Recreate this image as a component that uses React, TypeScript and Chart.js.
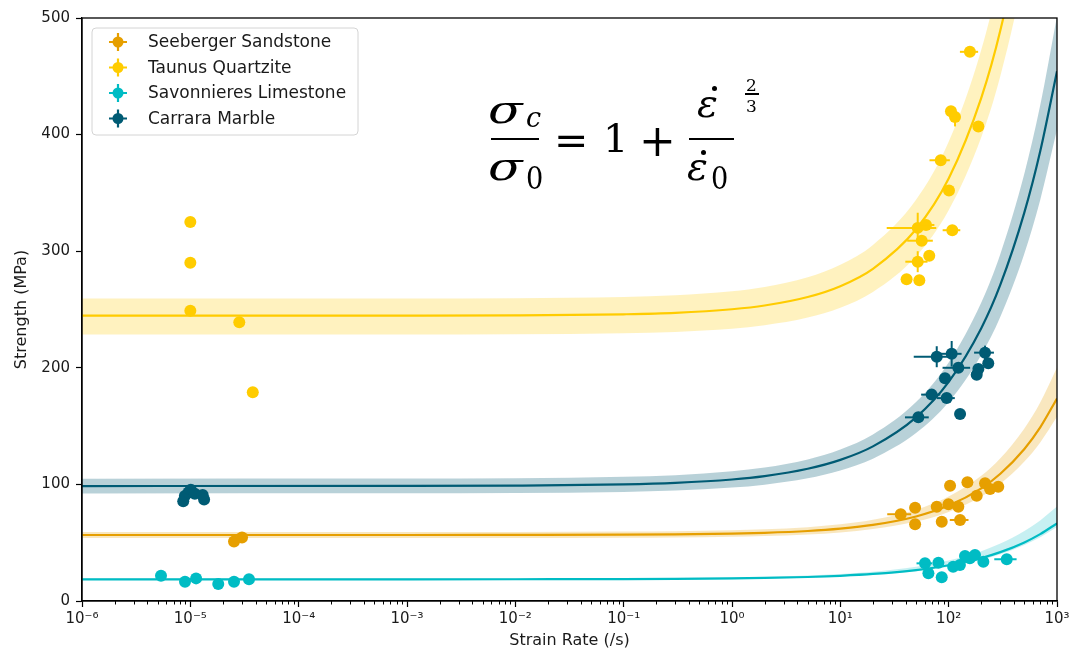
import React, { useEffect, useRef } from 'react';
import { Chart, registerables } from 'chart.js';

Chart.register(...registerables);

// ---------- data ----------
const materials = ['Seeberger Sandstone', 'Taunus Quartzite', 'Savonnieres Limestone', 'Carrara Marble'];

const xMajorTicks = [1e-6, 1e-5, 1e-4, 1e-3, 1e-2, 1e-1, 1, 10, 100, 1000];
const xTickLabels = ['10⁻⁶', '10⁻⁵', '10⁻⁴', '10⁻³', '10⁻²', '10⁻¹', '10⁰', '10¹', '10²', '10³'];
const yTicks = [0, 100, 200, 300, 400, 500];

// fitted curves (strength, MPa) at these strain rates (/s)
const fitRates = [1e-6, 1e-3, 1e-2, 1e-1, 0.3, 1, 2, 5, 10, 20, 50, 100, 200, 300, 500, 700, 1000];
const sandstoneFit = [56.6, 56.61, 56.65, 56.85, 57.12, 57.77, 58.46, 60.02, 62.04, 65.23, 72.49, 81.82, 96.64, 109.1, 130.4, 148.9, 173.7];
const sandstoneUpper = [59.2, 59.21, 59.27, 59.5, 59.83, 60.61, 61.44, 63.32, 65.75, 69.59, 78.34, 89.58, 107.4, 122.4, 148.0, 170.3, 200.2];
const sandstoneLower = [54.0, 54.01, 54.05, 54.22, 54.47, 55.04, 55.65, 57.04, 58.83, 61.67, 68.12, 76.41, 89.59, 100.6, 119.6, 136.0, 158.0];
const quartziteFit = [244.7, 244.75, 244.95, 245.9, 247.1, 250.2, 253.4, 260.7, 270.0, 284.9, 318.8, 362.3, 431.5, 489.4, 588.7, 675.0, 790.8];
const quartziteUpper = [259.4, 259.46, 259.7, 260.7, 262.2, 265.6, 269.3, 277.6, 288.4, 305.4, 344.1, 393.8, 472.8, 539.0, 652.4, 751.0, 883.3];
const quartziteLower = [228.6, 228.65, 228.8, 229.7, 230.8, 233.5, 236.5, 243.1, 251.6, 265.1, 295.7, 335.2, 397.8, 450.3, 540.3, 618.5, 723.4];
const limestoneFit = [18.6, 18.61, 18.65, 18.79, 18.97, 19.36, 19.75, 20.6, 21.63, 23.19, 26.55, 30.65, 36.87, 41.9, 50.27, 57.34, 66.6];
const limestoneUpper = [19.2, 19.22, 19.26, 19.45, 19.68, 20.18, 20.69, 21.77, 23.1, 25.11, 29.44, 34.73, 42.74, 49.22, 59.99, 69.11, 81.02];
const limestoneLower = [18.0, 18.01, 18.05, 18.18, 18.35, 18.72, 19.09, 19.89, 20.86, 22.34, 25.52, 29.39, 35.27, 40.03, 47.93, 54.62, 63.36];
const marbleFit = [98.6, 98.69, 98.96, 100.0, 101.3, 104.2, 107.1, 113.4, 121.0, 132.6, 157.5, 187.9, 234.0, 271.3, 333.3, 385.7, 454.3];
const marbleUpper = [104.9, 105.0, 105.3, 106.5, 107.9, 111.2, 114.4, 121.4, 129.9, 142.8, 170.6, 204.5, 255.9, 297.5, 366.6, 425.1, 501.5];
const marbleLower = [92.3, 92.38, 92.61, 93.54, 94.7, 97.24, 99.79, 105.3, 112.0, 122.1, 144.0, 170.6, 211.0, 243.7, 298.0, 344.0, 404.1];

// measurements: [strain rate, strength, strain-rate error, strength error]
type Pt = [number, number, number, number];
const sandstonePoints: Pt[] = [
  [2.53e-5, 51, 0, 0], [3.0e-5, 54.5, 0, 0],
  [36.1, 74.4, 9, 0], [49, 80, 0, 0], [49, 65.8, 0, 0], [77.6, 80.9, 0, 0], [99.6, 82.9, 0, 0],
  [122.8, 80.9, 0, 0], [86.3, 68, 0, 0], [127.4, 69.5, 25, 0], [103, 98.9, 0, 0], [149, 101.8, 0, 0],
  [181.5, 90.3, 0, 0], [216.7, 100.9, 0, 0], [241, 96.1, 0, 0], [287, 98, 0, 0],
];
const quartzitePoints: Pt[] = [
  [1.0e-5, 325, 0, 0], [1.0e-5, 290, 0, 0], [1.0e-5, 249, 0, 0], [2.83e-5, 239, 0, 0], [3.77e-5, 179, 0, 0],
  [157, 471, 30, 0], [105, 420, 0, 0], [114.5, 415, 12, 8], [188, 407, 0, 0], [84.5, 378, 18, 0],
  [100.7, 352, 0, 0], [51.8, 320, 25, 13], [61.8, 322.5, 12, 0], [108, 318, 20, 0], [56.4, 309, 15, 0],
  [66.2, 296, 0, 0], [51.8, 291, 12, 9], [40.9, 276, 0, 0], [53.6, 275, 0, 0],
];
const limestonePoints: Pt[] = [
  [5.36e-6, 21.7, 0, 0], [8.93e-6, 16.6, 0, 0], [1.13e-5, 19.4, 0, 0], [1.81e-5, 14.6, 0, 0],
  [2.53e-5, 16.6, 0, 0], [3.48e-5, 18.6, 0, 0],
  [60.5, 32.3, 10, 0], [80.4, 32.9, 0, 0], [65, 23.7, 0, 0], [86.3, 20.3, 0, 0], [110, 29.4, 0, 0],
  [127, 30.9, 0, 0], [141.5, 38.6, 0, 0], [157, 36.6, 0, 0], [175, 39.4, 0, 0], [209, 33.7, 0, 0],
  [343.6, 35.8, 80, 0],
];
const marblePoints: Pt[] = [
  [8.6e-6, 85.5, 0, 0], [8.9e-6, 90, 0, 0], [9.6e-6, 93, 0, 0], [1.01e-5, 95.5, 0, 0],
  [1.1e-5, 92, 0, 0], [1.3e-5, 91, 0, 0], [1.34e-5, 87, 0, 0],
  [77.6, 209.5, 30, 9], [106.6, 212, 25, 11], [122.8, 200, 35, 0], [216.7, 213, 45, 6], [232, 204, 0, 0],
  [188, 199, 0, 0], [181.5, 194, 0, 0], [92.5, 191, 0, 0], [69.7, 177, 14, 0], [95.9, 174, 18, 0],
  [52.5, 157.5, 13, 0], [127.4, 160.4, 0, 0],
];

// ---------- styles ----------
const FONT = "'DejaVu Sans', sans-serif";
const colors = ['#E69F00', '#FFCC00', '#00BCC4', '#005B74'];
const bandColors = ['rgba(230,159,0,0.25)', 'rgba(255,204,0,0.25)', 'rgba(0,188,196,0.22)', 'rgba(0,91,116,0.28)'];

const series = [
  { fit: sandstoneFit, upper: sandstoneUpper, lower: sandstoneLower, points: sandstonePoints },
  { fit: quartziteFit, upper: quartziteUpper, lower: quartziteLower, points: quartzitePoints },
  { fit: limestoneFit, upper: limestoneUpper, lower: limestoneLower, points: limestonePoints },
  { fit: marbleFit, upper: marbleUpper, lower: marbleLower, points: marblePoints },
];

const isMajor = (v: number) => Math.abs(Math.log10(v) - Math.round(Math.log10(v))) < 1e-6;

const toXY = (ys: number[]) => fitRates.map((r, i) => ({ x: r, y: ys[i] }));

const framePlugin = {
  id: 'frame',
  afterDraw(chart: any) {
    const { ctx, chartArea: a, scales } = chart;
    ctx.save();
    const xs = scales.x;
    ctx.strokeStyle = '#000';
    ctx.lineWidth = 1;
    xs.ticks.forEach((t: any) => {
      if (isMajor(t.value)) return;
      const px = Math.round(xs.getPixelForValue(t.value)) + 0.5;
      ctx.beginPath();
      ctx.moveTo(px, a.bottom);
      ctx.lineTo(px, a.bottom + 3.5);
      ctx.stroke();
    });
    ctx.lineWidth = 1.3;
    ctx.strokeRect(a.left, a.top, a.right - a.left, a.bottom - a.top);
    ctx.restore();
  },
};

const errorBarPlugin = {
  id: 'errorBars',
  afterDatasetsDraw(chart: any) {
    const { ctx, chartArea: a, scales: { x, y } } = chart;
    ctx.save();
    ctx.beginPath();
    ctx.rect(a.left, a.top, a.right - a.left, a.bottom - a.top);
    ctx.clip();
    ctx.lineWidth = 2;
    series.forEach((s, i) => {
      ctx.strokeStyle = colors[i];
      s.points.forEach(([r, v, re, ve]) => {
        const px = x.getPixelForValue(r);
        const py = y.getPixelForValue(v);
        if (re > 0) {
          ctx.beginPath();
          ctx.moveTo(x.getPixelForValue(Math.max(r - re, 1e-7)), py);
          ctx.lineTo(x.getPixelForValue(r + re), py);
          ctx.stroke();
        }
        if (ve > 0) {
          ctx.beginPath();
          ctx.moveTo(px, y.getPixelForValue(v - ve));
          ctx.lineTo(px, y.getPixelForValue(v + ve));
          ctx.stroke();
        }
      });
    });
    ctx.restore();
  },
};

const legendPlugin = {
  id: 'customLegend',
  afterDraw(chart: any) {
    const { ctx } = chart;
    const x0 = 92, y0 = 28, w = 266, h = 107, r = 4;
    ctx.save();
    ctx.beginPath();
    ctx.moveTo(x0 + r, y0);
    ctx.arcTo(x0 + w, y0, x0 + w, y0 + h, r);
    ctx.arcTo(x0 + w, y0 + h, x0, y0 + h, r);
    ctx.arcTo(x0, y0 + h, x0, y0, r);
    ctx.arcTo(x0, y0, x0 + w, y0, r);
    ctx.closePath();
    ctx.fillStyle = 'rgba(255,255,255,0.85)';
    ctx.fill();
    ctx.strokeStyle = '#d4d4d4';
    ctx.lineWidth = 1;
    ctx.stroke();
    materials.forEach((m, i) => {
      const cy = 42 + i * 25.5;
      const cx = 118;
      ctx.strokeStyle = colors[i];
      ctx.fillStyle = colors[i];
      ctx.lineWidth = 2.2;
      ctx.beginPath();
      ctx.moveTo(cx - 9, cy); ctx.lineTo(cx + 9, cy);
      ctx.moveTo(cx, cy - 9); ctx.lineTo(cx, cy + 9);
      ctx.stroke();
      ctx.beginPath();
      ctx.arc(cx, cy, 5.5, 0, Math.PI * 2);
      ctx.fill();
      ctx.fillStyle = '#1a1a1a';
      ctx.font = `17px ${FONT}`;
      ctx.textBaseline = 'middle';
      ctx.textAlign = 'left';
      ctx.fillText(m, 148, cy + 1);
    });
    ctx.restore();
  },
};

function Formula() {
  const base: React.CSSProperties = {
    position: 'absolute', lineHeight: 1, whiteSpace: 'nowrap', color: '#000',
    fontFamily: "'DejaVu Serif', serif", transformOrigin: 'left center',
  };
  const t = (x: number, baseline: number, size: number, italic: boolean, text: string, sx = 1) => (
    <span style={{
      ...base, left: x, top: baseline - 0.846 * size, fontSize: size,
      fontStyle: italic ? 'italic' : 'normal', transform: sx !== 1 ? `scaleX(${sx})` : undefined,
    }}>{text}</span>
  );
  const bar = (x: number, y: number, w: number, h = 2) => (
    <div style={{ position: 'absolute', left: x, top: y, width: w, height: h, background: '#000' }} />
  );
  const dot = (x: number, y: number) => (
    <div style={{ position: 'absolute', left: x - 2.5, top: y - 2.5, width: 5, height: 5, borderRadius: '50%', background: '#000' }} />
  );
  return (
    <div style={{ position: 'absolute', left: 0, top: 0, width: 1073, height: 653, pointerEvents: 'none' }}>
      {t(488, 123, 39, true, 'σ', 1.3)}
      {t(526, 127, 27, true, 'c')}
      {bar(491, 138, 48)}
      {t(488, 180, 39, true, 'σ', 1.3)}
      {t(526, 189, 32, false, '0', 0.85)}
      {t(554, 155, 41, false, '=')}
      {t(603, 152, 40, false, '1')}
      {t(639, 156, 44, false, '+')}
      {t(697, 117, 39, true, 'ε')}
      {dot(714, 88)}
      {bar(689, 138, 45)}
      {t(687, 180, 39, true, 'ε')}
      {dot(703, 152)}
      {t(711, 189, 32, false, '0', 0.85)}
      {t(746, 91, 17, false, '2')}
      {bar(745, 93, 14, 1.5)}
      {t(746, 112, 17, false, '3')}
    </div>
  );
}

export default function App() {
  const ref = useRef<HTMLCanvasElement>(null);

  useEffect(() => {
    if (!ref.current) return;
    const datasets: any[] = [];
    series.forEach((s, i) => {
      const bandIndex = datasets.length;
      datasets.push({
        type: 'line', label: materials[i] + ' upper', data: toXY(s.upper), borderWidth: 0, pointRadius: 0,
        borderColor: 'rgba(0,0,0,0)', backgroundColor: bandColors[i], fill: bandIndex + 1,
        cubicInterpolationMode: 'monotone', order: 3,
      });
      datasets.push({
        type: 'line', label: materials[i] + ' lower', data: toXY(s.lower), borderWidth: 0, pointRadius: 0,
        borderColor: 'rgba(0,0,0,0)', fill: false, cubicInterpolationMode: 'monotone', order: 3,
      });
    });
    series.forEach((s, i) => {
      datasets.push({
        type: 'line', label: materials[i] + ' fit', data: toXY(s.fit), borderWidth: 2.2, pointRadius: 0,
        borderColor: colors[i], fill: false, cubicInterpolationMode: 'monotone', order: 2,
      });
    });
    series.forEach((s, i) => {
      datasets.push({
        type: 'scatter', label: materials[i], data: s.points.map(([r, v]) => ({ x: r, y: v })),
        pointRadius: 6, pointHoverRadius: 6, borderWidth: 0, backgroundColor: colors[i], borderColor: colors[i],
        showLine: false, order: 1,
      });
    });

    const chart = new Chart(ref.current, {
      type: 'line',
      data: { datasets },
      options: {
        responsive: false,
        animation: false,
        devicePixelRatio: 1,
        layout: { padding: { left: 0, top: 18, right: 16, bottom: 0 } },
        plugins: { legend: { display: false }, tooltip: { enabled: false } },
        scales: {
          x: {
            type: 'logarithmic',
            min: 1e-6,
            max: 1e3,
            afterFit: (s: any) => { s.height = 52; },
            afterBuildTicks: (s: any) => {
              const ticks: any[] = [];
              xMajorTicks.forEach((m, k) => {
                ticks.push({ value: m });
                if (k < xMajorTicks.length - 1) for (let j = 2; j <= 9; j++) ticks.push({ value: m * j });
              });
              s.ticks = ticks;
            },
            grid: {
              drawOnChartArea: false, drawTicks: true, tickLength: 6, tickWidth: 1.2,
              tickColor: (c: any) => (c.tick && isMajor(c.tick.value) ? '#000' : 'rgba(0,0,0,0)'),
            },
            border: { display: true, color: '#000', width: 1.3 },
            ticks: {
              autoSkip: false, maxRotation: 0, minRotation: 0, padding: 3, color: '#1a1a1a',
              font: { family: FONT, size: 15 },
              callback: (v: any) => {
                const k = xMajorTicks.findIndex((m) => Math.abs(Math.log10(m) - Math.log10(Number(v))) < 1e-6);
                return k >= 0 ? xTickLabels[k] : '';
              },
            },
            title: {
              display: true, text: 'Strain Rate (/s)', color: '#1a1a1a',
              font: { family: FONT, size: 16 }, padding: { top: 0, bottom: 3 },
            },
          },
          y: {
            type: 'linear',
            min: 0,
            max: 500,
            afterFit: (s: any) => { s.width = 82; },
            afterBuildTicks: (s: any) => { s.ticks = yTicks.map((v) => ({ value: v })); },
            grid: { drawOnChartArea: false, drawTicks: true, tickLength: 6, tickWidth: 1.2, tickColor: '#000' },
            border: { display: true, color: '#000', width: 1.3 },
            ticks: { padding: 6, color: '#1a1a1a', font: { family: FONT, size: 15 } },
            title: {
              display: true, text: 'Strength (MPa)', color: '#1a1a1a',
              font: { family: FONT, size: 16 }, padding: { top: 12, bottom: 0 },
            },
          },
        },
      },
      plugins: [errorBarPlugin, framePlugin, legendPlugin],
    } as any);
    return () => chart.destroy();
  }, []);

  return (
    <div style={{ position: 'absolute', left: 0, top: 0, width: 1073, height: 653, background: '#fff' }}>
      <canvas ref={ref} width={1073} height={653} style={{ display: 'block' }} />
      <Formula />
    </div>
  );
}
